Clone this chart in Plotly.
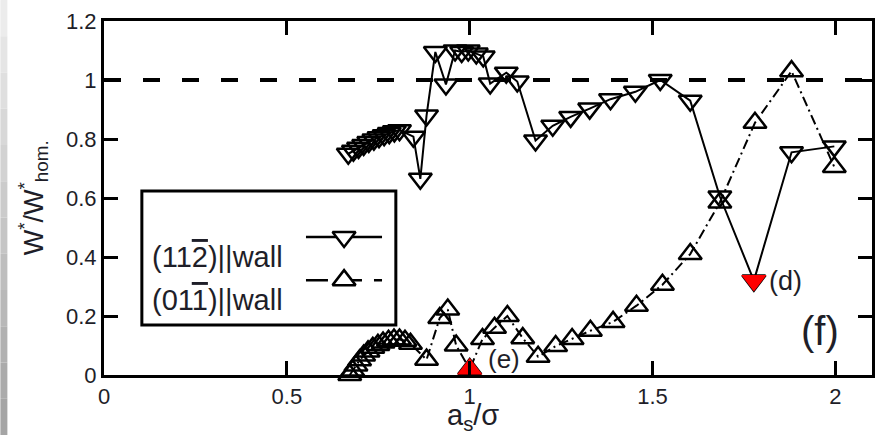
import plotly.graph_objects as go

# ---------------- data ----------------
# (11-2)||wall  -- downward triangles, solid line
x_112 = [0.668, 0.682, 0.696, 0.710, 0.724, 0.738, 0.752, 0.766, 0.780, 0.794, 0.808,
         0.846, 0.865, 0.882, 0.906, 0.935, 0.960, 0.978, 0.996, 1.018, 1.037, 1.056,
         1.100, 1.130, 1.180, 1.227, 1.276, 1.328, 1.385, 1.453, 1.521, 1.603, 1.684,
         1.777, 1.880, 1.997]
y_112 = [0.750, 0.760, 0.770, 0.780, 0.790, 0.798, 0.806, 0.813, 0.820, 0.826, 0.830,
         0.808, 0.665, 0.880, 1.095, 0.985, 1.100, 1.095, 1.100, 1.090, 1.080, 0.988,
         1.025, 0.995, 0.795, 0.845, 0.875, 0.903, 0.935, 0.960, 1.000, 0.930, 0.605,
         0.320, 0.755, 0.775]

# (01-1)||wall  -- upward triangles, dash-dot line
x_011 = [0.672, 0.680, 0.689, 0.699, 0.710, 0.722, 0.735, 0.749, 0.763, 0.778, 0.793,
         0.808, 0.823, 0.838, 0.882, 0.918, 0.940, 0.963, 1.000, 1.035, 1.068, 1.103,
         1.145, 1.187, 1.235, 1.280, 1.330, 1.392, 1.456, 1.527, 1.603, 1.684, 1.780,
         1.880, 1.997]
y_011 = [0.000, 0.015, 0.032, 0.050, 0.066, 0.080, 0.092, 0.102, 0.110, 0.116, 0.120,
         0.120, 0.116, 0.106, 0.052, 0.193, 0.222, 0.100, 0.020, 0.122, 0.160, 0.200,
         0.125, 0.062, 0.098, 0.122, 0.150, 0.180, 0.235, 0.306, 0.410, 0.585, 0.855,
         1.030, 0.705]

# highlighted states
x_d, y_d = [1.777], [0.320]
x_e, y_e = [1.000], [0.020]

x_ticks = [0, 0.5, 1, 1.5, 2]
y_ticks = [0, 0.2, 0.4, 0.6, 0.8, 1, 1.2]

FONT = "Liberation Sans, Arial, Helvetica, sans-serif"
TXT = "#1e1e28"
OVL = "<span style='text-decoration:overline'>{}</span>"

fig = go.Figure()

fig.add_trace(go.Scatter(
    x=x_112, y=y_112, mode="lines+markers",
    line=dict(color="black", width=2),
    marker=dict(symbol="triangle-down-open", size=20, color="black",
                line=dict(color="black", width=2.5)),
    showlegend=False, cliponaxis=False))

fig.add_trace(go.Scatter(
    x=x_011, y=y_011, mode="lines+markers",
    line=dict(color="black", width=2, dash="10px,4px,2px,4px"),
    marker=dict(symbol="triangle-up-open", size=20, color="black",
                line=dict(color="black", width=2.5)),
    showlegend=False, cliponaxis=False))

fig.add_trace(go.Scatter(
    x=x_d, y=y_d, mode="markers",
    marker=dict(symbol="triangle-down", size=22, color="#ff0000", line=dict(width=0)),
    showlegend=False, cliponaxis=False))
fig.add_trace(go.Scatter(
    x=x_e, y=y_e, mode="markers",
    marker=dict(symbol="triangle-up", size=22, color="#ff0000", line=dict(width=0)),
    showlegend=False, cliponaxis=False))

# legend samples (paper-fraction overlay axes)
leg_x_line = [0.263, 0.362]
leg_x_mark = [0.3126]
leg_y1, leg_y2 = 0.390, 0.268
fig.add_trace(go.Scatter(x=leg_x_line, y=[leg_y1, leg_y1], mode="lines",
                         line=dict(color="black", width=2.5),
                         xaxis="x2", yaxis="y2", showlegend=False, hoverinfo="skip"))
fig.add_trace(go.Scatter(x=leg_x_mark, y=[leg_y1], mode="markers",
                         marker=dict(symbol="triangle-down", size=20, color="white",
                                     line=dict(color="black", width=2.5)),
                         xaxis="x2", yaxis="y2", showlegend=False, hoverinfo="skip"))
fig.add_trace(go.Scatter(x=leg_x_line, y=[leg_y2, leg_y2], mode="lines",
                         line=dict(color="black", width=2.5, dash="22px,12px"),
                         xaxis="x2", yaxis="y2", showlegend=False, hoverinfo="skip"))
fig.add_trace(go.Scatter(x=leg_x_mark, y=[leg_y2], mode="markers",
                         marker=dict(symbol="triangle-up", size=20, color="white",
                                     line=dict(color="black", width=2.5)),
                         xaxis="x2", yaxis="y2", showlegend=False, hoverinfo="skip"))

shapes = []
# left slide-edge gray strip
n = 12
for i in range(n):
    g = int(236 - (236 - 165) * i / (n - 1))
    col = f"rgb({g},{g},{g})"
    y_top = 1.0593 - i * (1.0593 + 0.1695) / n
    y_bot = 1.0593 - (i + 1) * (1.0593 + 0.1695) / n
    shapes.append(dict(type="rect", xref="paper", yref="paper",
                       x0=-0.1349, x1=-0.1258, y0=y_bot, y1=y_top,
                       fillcolor=col, line=dict(width=0), layer="below"))
# reference line y = 1
shapes.append(dict(type="line", xref="x domain", yref="y", x0=0, x1=1, y0=1, y1=1,
                   line=dict(color="black", width=4, dash="17px,22px"), layer="below"))
# legend box
shapes.append(dict(type="rect", xref="paper", yref="paper",
                   x0=0.0493, x1=0.380, y0=0.141, y1=0.520,
                   fillcolor="white", line=dict(color="black", width=3), layer="below"))

annotations = [
    dict(text="(11" + OVL.format("2") + ")||wall", x=0.060, y=0.334,
         xref="paper", yref="paper",
         xanchor="left", yanchor="middle", showarrow=False,
         font=dict(family=FONT, size=29, color=TXT)),
    dict(text="(01" + OVL.format("1") + ")||wall", x=0.060, y=0.212,
         xref="paper", yref="paper",
         xanchor="left", yanchor="middle", showarrow=False,
         font=dict(family=FONT, size=29, color=TXT)),
    dict(text="(e)", x=0.497, y=0.045, xref="paper", yref="paper",
         xanchor="left", yanchor="middle", showarrow=False,
         font=dict(family=FONT, size=26, color=TXT)),
    dict(text="(d)", x=0.863, y=0.266, xref="paper", yref="paper",
         xanchor="left", yanchor="middle", showarrow=False,
         font=dict(family=FONT, size=27, color=TXT)),
    dict(text="(f)", x=0.905, y=0.125, xref="paper", yref="paper",
         xanchor="left", yanchor="middle", showarrow=False,
         font=dict(family=FONT, size=40, color=TXT)),
    dict(text="a<sub>s</sub>/σ", x=0.481, y=-0.118, xref="paper", yref="paper",
         xanchor="center", yanchor="middle", showarrow=False,
         font=dict(family=FONT, size=29, color=TXT)),
    dict(text="W<sup>*</sup>/W<sup>*</sup><sub>hom.</sub>", x=-0.092, y=0.50,
         xref="paper", yref="paper", textangle=-90,
         xanchor="center", yanchor="middle", showarrow=False,
         font=dict(family=FONT, size=27, color=TXT)),
]

axis_common = dict(showline=True, linecolor="black", linewidth=3, mirror="ticks",
                   ticks="inside", ticklen=14, tickwidth=3, tickcolor="black",
                   showgrid=False, zeroline=False,
                   tickfont=dict(family=FONT, size=22, color=TXT))

fig.update_layout(
    width=877, height=435,
    margin=dict(l=104, r=2, t=21, b=60),
    paper_bgcolor="white", plot_bgcolor="white",
    xaxis=dict(range=[0, 2.1], tickvals=x_ticks, ticktext=["0", "0.5", "1", "1.5", "2"],
               **axis_common),
    yaxis=dict(range=[0, 1.2], tickvals=y_ticks,
               ticktext=["0", "0.2", "0.4", "0.6", "0.8", "1", "1.2"], **axis_common),
    xaxis2=dict(range=[0, 1], overlaying="x", visible=False, anchor="y2"),
    yaxis2=dict(range=[0, 1], overlaying="y", visible=False, anchor="x2"),
    shapes=shapes, annotations=annotations,
)

fig.write_html("out.html")
